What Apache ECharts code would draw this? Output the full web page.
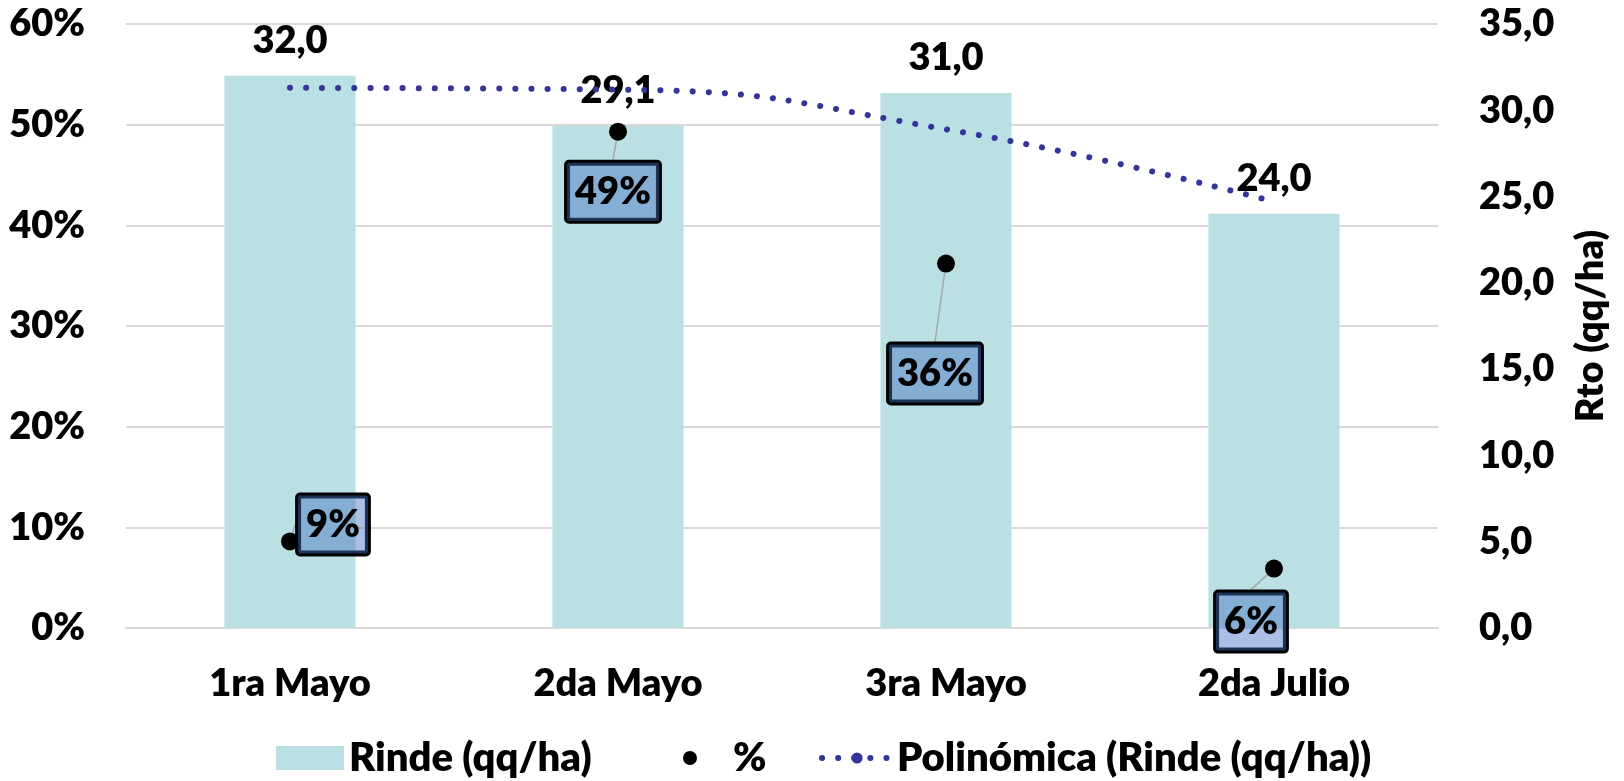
<!DOCTYPE html>
<html>
<head>
<meta charset="utf-8">
<script src="https://cdn.jsdelivr.net/npm/echarts@6/dist/echarts.min.js"></script>
<style>
  html, body { margin: 0; padding: 0; background: #ffffff; }
  #chart { width: 1624px; height: 781px; }
</style>
</head>
<body>
<div id="chart"></div>
<script>
// ---- data ----
const categories = ['1ra Mayo', '2da Mayo', '3ra Mayo', '2da Julio'];
const rinde = [32.0, 29.1, 31.0, 24.0];          // Rinde (qq/ha), right axis
const pct = [8.6, 49.3, 36.2, 5.9];              // %, left axis
const trend = [31.3, 31.2, 28.9, 24.7];          // Polinómica (Rinde) read at category centres
const pctAxis = { min: 0, max: 60, step: 10 };
const rtoAxis = { min: 0, max: 35, step: 5 };

// label shifts for the % callouts (layout, not data)
const pctLabelShift = [[43, -17], [-5, 60], [-11, 110], [-23, 53]];

const FONT = 'Lato';
const FW = 800;
const FS = 38;
const comma1 = v => Number(v).toFixed(1).replace('.', ',');

const chart = echarts.init(document.getElementById('chart'), null, { renderer: 'canvas' });

const legendText = { fontFamily: FONT, fontWeight: FW, fontSize: 40, color: '#000', lineHeight: 40 };
const dotLine = { color: '#34349A', width: 6, type: [0.1, 16], cap: 'round' };

chart.setOption({
  animation: false,
  backgroundColor: '#ffffff',
  grid: { left: 126, right: 186, top: 24, bottom: 153 },
  legend: [
    { data: [{ name: 'Rinde (qq/ha)', icon: 'rect' }], left: 271, top: 733, itemWidth: 68, itemHeight: 24, textStyle: legendText, selectedMode: false },
    { data: [{ name: '%', icon: 'circle' }], left: 678, top: 733, itemWidth: 76, itemHeight: 14, textStyle: legendText, selectedMode: false, itemStyle: { opacity: 1 } },
    { data: [{ name: 'Polinómica (Rinde (qq/ha))' }], left: 814, top: 733, itemWidth: 70, itemHeight: 14, textStyle: legendText, selectedMode: false, lineStyle: dotLine }
  ],
  xAxis: {
    type: 'category',
    data: categories,
    axisLine: { show: true, lineStyle: { color: '#D9D9D9', width: 2 } },
    axisTick: { show: false },
    axisLabel: { fontFamily: FONT, fontWeight: FW, fontSize: FS, color: '#000', margin: 37 }
  },
  yAxis: [
    {
      type: 'value',
      min: pctAxis.min, max: pctAxis.max, interval: pctAxis.step,
      axisLine: { show: false }, axisTick: { show: false },
      splitLine: { show: true, lineStyle: { color: '#D9D9D9', width: 2 } },
      axisLabel: { formatter: '{value}%', fontFamily: FONT, fontWeight: FW, fontSize: FS, color: '#000', margin: 41 }
    },
    {
      type: 'value',
      min: rtoAxis.min, max: rtoAxis.max, interval: rtoAxis.step,
      position: 'right',
      axisLine: { show: false }, axisTick: { show: false },
      splitLine: { show: false },
      axisLabel: { formatter: v => comma1(v), fontFamily: FONT, fontWeight: FW, fontSize: FS, color: '#000', margin: 41 },
      name: 'Rto (qq/ha)',
      nameLocation: 'middle',
      nameRotate: 90,
      nameGap: 134,
      nameTextStyle: { fontFamily: FONT, fontWeight: FW, fontSize: FS, color: '#000' }
    }
  ],
  series: [
    {
      name: 'Rinde (qq/ha)',
      type: 'bar',
      yAxisIndex: 1,
      data: rinde,
      barWidth: '40%',
      itemStyle: { color: '#BBE0E3' },
      label: {
        show: true, position: 'top', distance: 16,
        formatter: p => comma1(p.value),
        fontFamily: FONT, fontWeight: FW, fontSize: FS, color: '#000'
      },
      z: 2
    },
    {
      name: 'Polinómica (Rinde (qq/ha))',
      type: 'line',
      yAxisIndex: 1,
      data: trend,
      smooth: true,
      symbol: 'none',
      lineStyle: dotLine,
      itemStyle: { color: '#34349A' },
      z: 4
    },
    {
      name: '%',
      type: 'scatter',
      yAxisIndex: 0,
      data: pct,
      symbol: 'circle',
      symbolSize: 18,
      itemStyle: { color: '#000', opacity: 1 },
      label: {
        show: true,
        position: 'inside',
        formatter: p => Math.round(p.value) + '%',
        fontFamily: FONT, fontWeight: FW, fontSize: FS, color: '#000',
        lineHeight: 40,
        padding: [9, 8],
        backgroundColor: 'rgba(68,114,196,0.45)',
        borderColor: '#000',
        borderWidth: 3,
        borderRadius: 2,
        opacity: 1
      },
      labelLine: { show: true, lineStyle: { color: '#A6A6A6', width: 1.5, opacity: 1 } },
      labelLayout: p => ({ dx: pctLabelShift[p.dataIndex][0], dy: pctLabelShift[p.dataIndex][1] }),
      z: 5
    }
  ]
});
</script>
</body>
</html>
